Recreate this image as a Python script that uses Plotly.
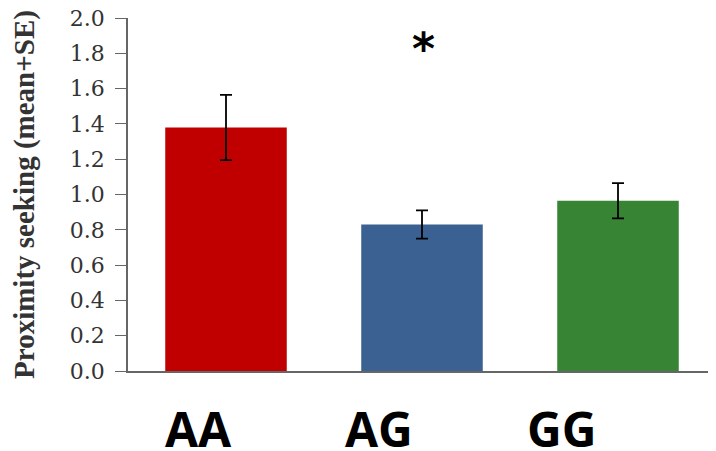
import plotly.graph_objects as go

genotypes = ["AA", "AG", "GG"]
means = [1.38, 0.83, 0.965]
se = [0.185, 0.08, 0.10]
colors = ["#C00000", "#3A6192", "#378434"]
yticks = [0.0, 0.2, 0.4, 0.6, 0.8, 1.0, 1.2, 1.4, 1.6, 1.8, 2.0]

fig = go.Figure()
fig.add_trace(go.Bar(
    x=genotypes, y=means, marker_color=colors, marker_line_width=0,
    error_y=dict(type="data", array=se, visible=True, color="black",
                 thickness=1.8, width=6),
))

# category labels sit a bit left of bar centres in the original
label_x = [-0.138, 0.779, 1.716]
for g, lx in zip(genotypes, label_x):
    fig.add_annotation(x=lx, y=0, xref="x", yref="y", yshift=-57, text=f"<b>{g}</b>",
                       showarrow=False, font=dict(family="Open Sans", size=48, color="black"))

fig.add_annotation(x=1.008, y=1.83, xref="x", yref="y", text="<b>*</b>", showarrow=False,
                   font=dict(family="DejaVu Sans", size=44, color="black"))

# page body adds an 8px offset, so the figure is 8px smaller than the window
fig.update_layout(
    width=708, height=443,
    margin=dict(l=120, r=0, t=10, b=80),
    paper_bgcolor="white", plot_bgcolor="white",
    showlegend=False, bargap=0.38,
    font=dict(family="Liberation Serif", color="#333"),
)
fig.update_xaxes(showticklabels=False, ticks="", showline=True, linecolor="#666",
                 linewidth=1.5, range=[-0.5, 2.5], showgrid=False, automargin=False)
fig.update_yaxes(range=[0, 2.0], tickvals=yticks, ticktext=[f"{v:.1f}" for v in yticks],
                 ticks="outside", ticklen=11, tickcolor="#666", showline=True,
                 linecolor="#666", linewidth=1.5, showgrid=False, zeroline=False,
                 automargin=False, ticklabelstandoff=6, ticklabeloverflow="allow",
                 tickfont=dict(family="DejaVu Serif", size=22, color="#333"),
                 title=dict(text="<b>Proximity seeking (mean+SE)</b>", standoff=30,
                            font=dict(family="Liberation Serif", size=29, color="#333")))

fig.write_html("out.html")
